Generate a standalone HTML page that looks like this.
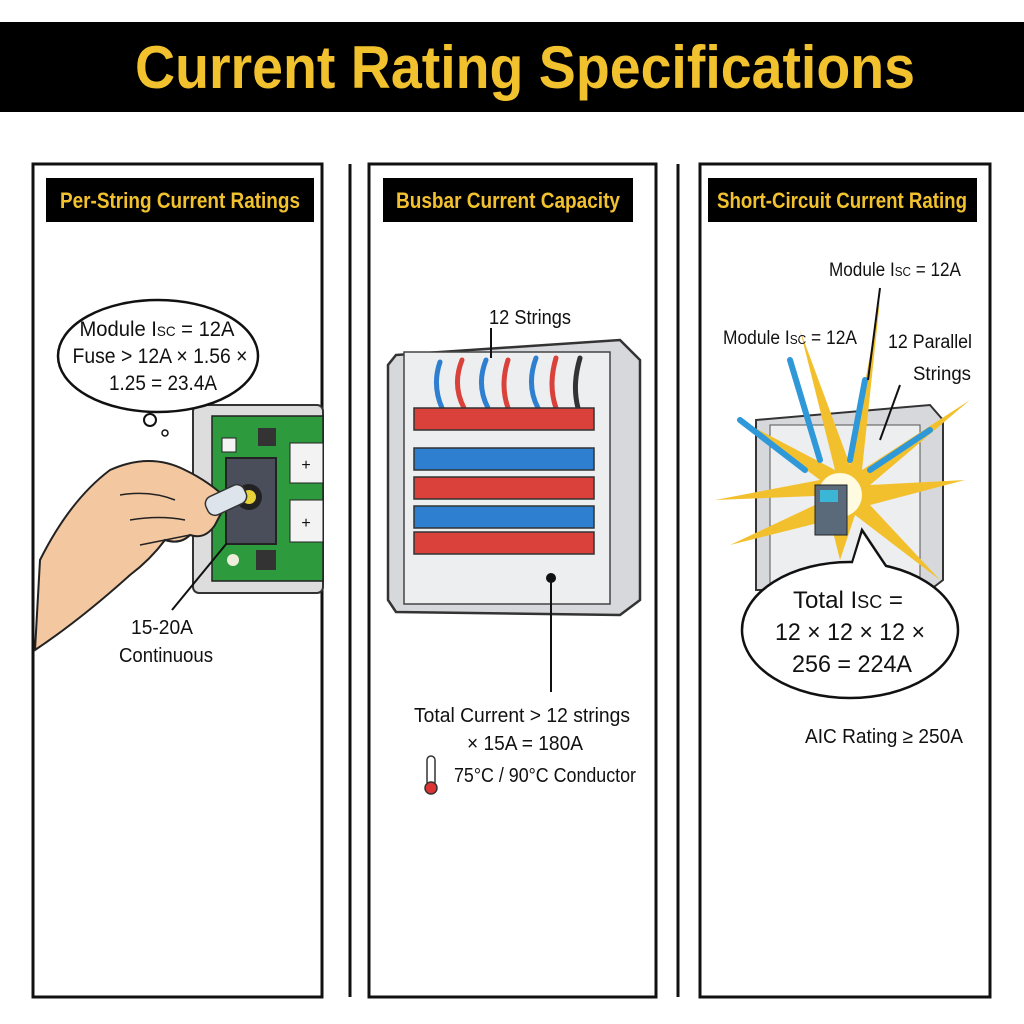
<!DOCTYPE html>
<html><head><meta charset="utf-8"><style>
html,body{margin:0;padding:0;background:#fff;width:1024px;height:1024px;overflow:hidden}
svg{display:block}
text{font-family:"Liberation Sans",sans-serif;fill:#111}
</style></head><body>
<svg width="1024" height="1024" viewBox="0 0 1024 1024">
<rect width="1024" height="1024" fill="#fff"/>
<rect x="0" y="22" width="1024" height="90" fill="#000"/>
<text x="525" y="88" text-anchor="middle" font-size="60" font-weight="bold" style="fill:#f2c12e" textLength="780" lengthAdjust="spacingAndGlyphs">Current Rating Specifications</text>

<rect x="33" y="164" width="289" height="833" fill="none" stroke="#111" stroke-width="3"/>
<rect x="369" y="164" width="287" height="833" fill="none" stroke="#111" stroke-width="3"/>
<rect x="700" y="164" width="290" height="833" fill="none" stroke="#111" stroke-width="3"/>
<line x1="350" y1="164" x2="350" y2="997" stroke="#111" stroke-width="3"/>
<line x1="678" y1="164" x2="678" y2="997" stroke="#111" stroke-width="3"/>

<rect x="46" y="178" width="268" height="44" fill="#000"/>
<text x="180" y="208" text-anchor="middle" font-size="22" font-weight="bold" style="fill:#f2c12e" textLength="240" lengthAdjust="spacingAndGlyphs">Per-String Current Ratings</text>
<rect x="383" y="178" width="250" height="44" fill="#000"/>
<text x="508" y="208" text-anchor="middle" font-size="22" font-weight="bold" style="fill:#f2c12e" textLength="224" lengthAdjust="spacingAndGlyphs">Busbar Current Capacity</text>
<rect x="708" y="178" width="269" height="44" fill="#000"/>
<text x="842" y="208" text-anchor="middle" font-size="22" font-weight="bold" style="fill:#f2c12e" textLength="250" lengthAdjust="spacingAndGlyphs">Short-Circuit Current Rating</text>

<!-- Panel 1 -->
<rect x="193" y="405" width="130" height="188" rx="6" fill="#ddd" stroke="#333" stroke-width="2"/>
<rect x="212" y="416" width="111" height="165" fill="#2e9a3e" stroke="#222" stroke-width="1.5"/>
<rect x="222" y="438" width="14" height="14" fill="#f3f3f3" stroke="#222"/>
<rect x="258" y="428" width="18" height="18" fill="#333"/>
<rect x="290" y="443" width="33" height="40" fill="#f3f3f3" stroke="#222"/>
<text x="306" y="470" text-anchor="middle" font-size="16">+</text>
<rect x="290" y="500" width="33" height="42" fill="#f3f3f3" stroke="#222"/>
<text x="306" y="528" text-anchor="middle" font-size="16">+</text>
<rect x="226" y="458" width="50" height="86" fill="#4a4d5a" stroke="#222" stroke-width="2"/>
<circle cx="249" cy="497" r="13" fill="#222"/><circle cx="249" cy="497" r="7" fill="#e8d23a"/>
<rect x="256" y="550" width="20" height="20" fill="#333"/>
<circle cx="233" cy="560" r="6" fill="#eed"/>
<path d="M35 650 L40 560 Q70 500 110 470 Q150 452 185 470 Q210 482 228 500 L215 525 Q205 540 190 535 Q180 545 165 540 Q150 560 130 575 Q80 620 35 650Z" fill="#f3c7a0" stroke="#222" stroke-width="2"/>
<path d="M120 495 Q150 490 175 500 M130 520 Q160 515 185 520 M140 545 Q165 540 190 535" fill="none" stroke="#222" stroke-width="1.5"/>
<rect x="205" y="490" width="42" height="20" rx="8" fill="#dde4ec" stroke="#333" stroke-width="1.5" transform="rotate(-25 226 500)"/>
<ellipse cx="158" cy="356" rx="100" ry="56" fill="#fff" stroke="#111" stroke-width="2.5"/>
<circle cx="150" cy="420" r="6" fill="#fff" stroke="#111" stroke-width="2"/>
<circle cx="165" cy="433" r="3" fill="#fff" stroke="#111" stroke-width="1.5"/>
<text x="157" y="336" text-anchor="middle" font-size="21" textLength="155" lengthAdjust="spacingAndGlyphs">Module I<tspan font-size="14">SC</tspan> = 12A</text>
<text x="160" y="363" text-anchor="middle" font-size="21" textLength="175" lengthAdjust="spacingAndGlyphs">Fuse &gt; 12A × 1.56 ×</text>
<text x="163" y="390" text-anchor="middle" font-size="21" textLength="108" lengthAdjust="spacingAndGlyphs">1.25 = 23.4A</text>
<line x1="227" y1="543" x2="172" y2="610" stroke="#111" stroke-width="2"/>
<text x="162" y="634" text-anchor="middle" font-size="20" textLength="62" lengthAdjust="spacingAndGlyphs">15-20A</text>
<text x="166" y="662" text-anchor="middle" font-size="20" textLength="94" lengthAdjust="spacingAndGlyphs">Continuous</text>

<!-- Panel 2 -->
<path d="M396 355 L620 340 L640 360 L640 600 L620 615 L396 612 L388 600 L388 365Z" fill="#d6d8dc" stroke="#333" stroke-width="2.5"/>
<rect x="404" y="352" width="206" height="252" fill="#eceef0" stroke="#444" stroke-width="1.5"/>
<g stroke-width="5" fill="none" stroke-linecap="round">
<path d="M440 362 Q432 385 442 408" stroke="#2f7fd1"/><path d="M462 360 Q452 385 464 408" stroke="#d9413a"/>
<path d="M486 360 Q476 385 488 408" stroke="#2f7fd1"/><path d="M508 360 Q500 385 508 408" stroke="#d9413a"/>
<path d="M536 358 Q526 385 538 408" stroke="#2f7fd1"/><path d="M556 358 Q548 385 556 408" stroke="#d9413a"/>
<path d="M580 358 Q572 385 578 408" stroke="#333"/>
</g>
<rect x="414" y="408" width="180" height="22" fill="#d9413a" stroke="#333" stroke-width="1.5"/>
<rect x="414" y="448" width="180" height="22" fill="#2f7fd1" stroke="#333" stroke-width="1.5"/>
<rect x="414" y="477" width="180" height="22" fill="#d9413a" stroke="#333" stroke-width="1.5"/>
<rect x="414" y="506" width="180" height="22" fill="#2f7fd1" stroke="#333" stroke-width="1.5"/>
<rect x="414" y="532" width="180" height="22" fill="#d9413a" stroke="#333" stroke-width="1.5"/>
<circle cx="551" cy="578" r="5" fill="#111"/>
<line x1="551" y1="578" x2="551" y2="692" stroke="#111" stroke-width="2"/>
<line x1="491" y1="328" x2="491" y2="358" stroke="#111" stroke-width="2"/>
<text x="530" y="324" text-anchor="middle" font-size="20" textLength="82" lengthAdjust="spacingAndGlyphs">12 Strings</text>
<text x="522" y="722" text-anchor="middle" font-size="20" textLength="216" lengthAdjust="spacingAndGlyphs">Total Current &gt; 12 strings</text>
<text x="525" y="750" text-anchor="middle" font-size="20" textLength="116" lengthAdjust="spacingAndGlyphs">× 15A = 180A</text>
<rect x="427" y="756" width="8" height="30" rx="4" fill="#fff" stroke="#333" stroke-width="1.5"/>
<circle cx="431" cy="788" r="6" fill="#d33" stroke="#333" stroke-width="1.5"/>
<text x="545" y="782" text-anchor="middle" font-size="20" textLength="182" lengthAdjust="spacingAndGlyphs">75°C / 90°C Conductor</text>

<!-- Panel 3 -->
<path d="M756 420 L930 405 L943 420 L943 580 L930 590 L756 590Z" fill="#d6d8dc" stroke="#333" stroke-width="2"/>
<rect x="770" y="425" width="150" height="160" fill="#eceef0" stroke="#555"/>
<g fill="#f3c02d">
<polygon points="840,495 715,500 820,480 740,420 835,470 800,330 850,465 880,300 862,470 970,400 870,485 965,480 870,505 940,580 855,515 840,560 830,520 730,545 815,505"/>
</g>
<g stroke="#2f98d8" stroke-width="6" stroke-linecap="round">
<line x1="805" y1="470" x2="740" y2="420"/><line x1="820" y1="460" x2="790" y2="360"/>
<line x1="870" y1="470" x2="930" y2="430"/><line x1="850" y1="460" x2="865" y2="380"/>
</g>
<circle cx="840" cy="495" r="22" fill="#fffbe0"/>
<rect x="815" y="485" width="32" height="50" fill="#5b6a7a" stroke="#222"/>
<rect x="820" y="490" width="18" height="12" fill="#3bb6d6"/>
<path d="M850 570 L862 530 L892 575" fill="#fff" stroke="#111" stroke-width="2.5"/>
<ellipse cx="850" cy="630" rx="108" ry="68" fill="#fff" stroke="#111" stroke-width="2.5"/>
<path d="M852 566 L862 534 L886 568Z" fill="#fff"/>
<text x="848" y="608" text-anchor="middle" font-size="24" textLength="110" lengthAdjust="spacingAndGlyphs">Total I<tspan font-size="18">SC</tspan> =</text>
<text x="850" y="640" text-anchor="middle" font-size="24" textLength="150" lengthAdjust="spacingAndGlyphs">12 × 12 × 12 ×</text>
<text x="852" y="672" text-anchor="middle" font-size="24" textLength="120" lengthAdjust="spacingAndGlyphs">256 = 224A</text>
<text x="884" y="743" text-anchor="middle" font-size="20" textLength="158" lengthAdjust="spacingAndGlyphs">AIC Rating ≥ 250A</text>
<text x="895" y="276" text-anchor="middle" font-size="19" textLength="132" lengthAdjust="spacingAndGlyphs">Module I<tspan font-size="13">SC</tspan> = 12A</text>
<text x="790" y="344" text-anchor="middle" font-size="19" textLength="134" lengthAdjust="spacingAndGlyphs">Module I<tspan font-size="13">SC</tspan> = 12A</text>
<text x="930" y="348" text-anchor="middle" font-size="19" textLength="84" lengthAdjust="spacingAndGlyphs">12 Parallel</text>
<text x="942" y="380" text-anchor="middle" font-size="19" textLength="58" lengthAdjust="spacingAndGlyphs">Strings</text>
<line x1="880" y1="288" x2="868" y2="380" stroke="#111" stroke-width="2"/>
<line x1="900" y1="385" x2="880" y2="440" stroke="#111" stroke-width="2"/>
</svg>
</body></html>
